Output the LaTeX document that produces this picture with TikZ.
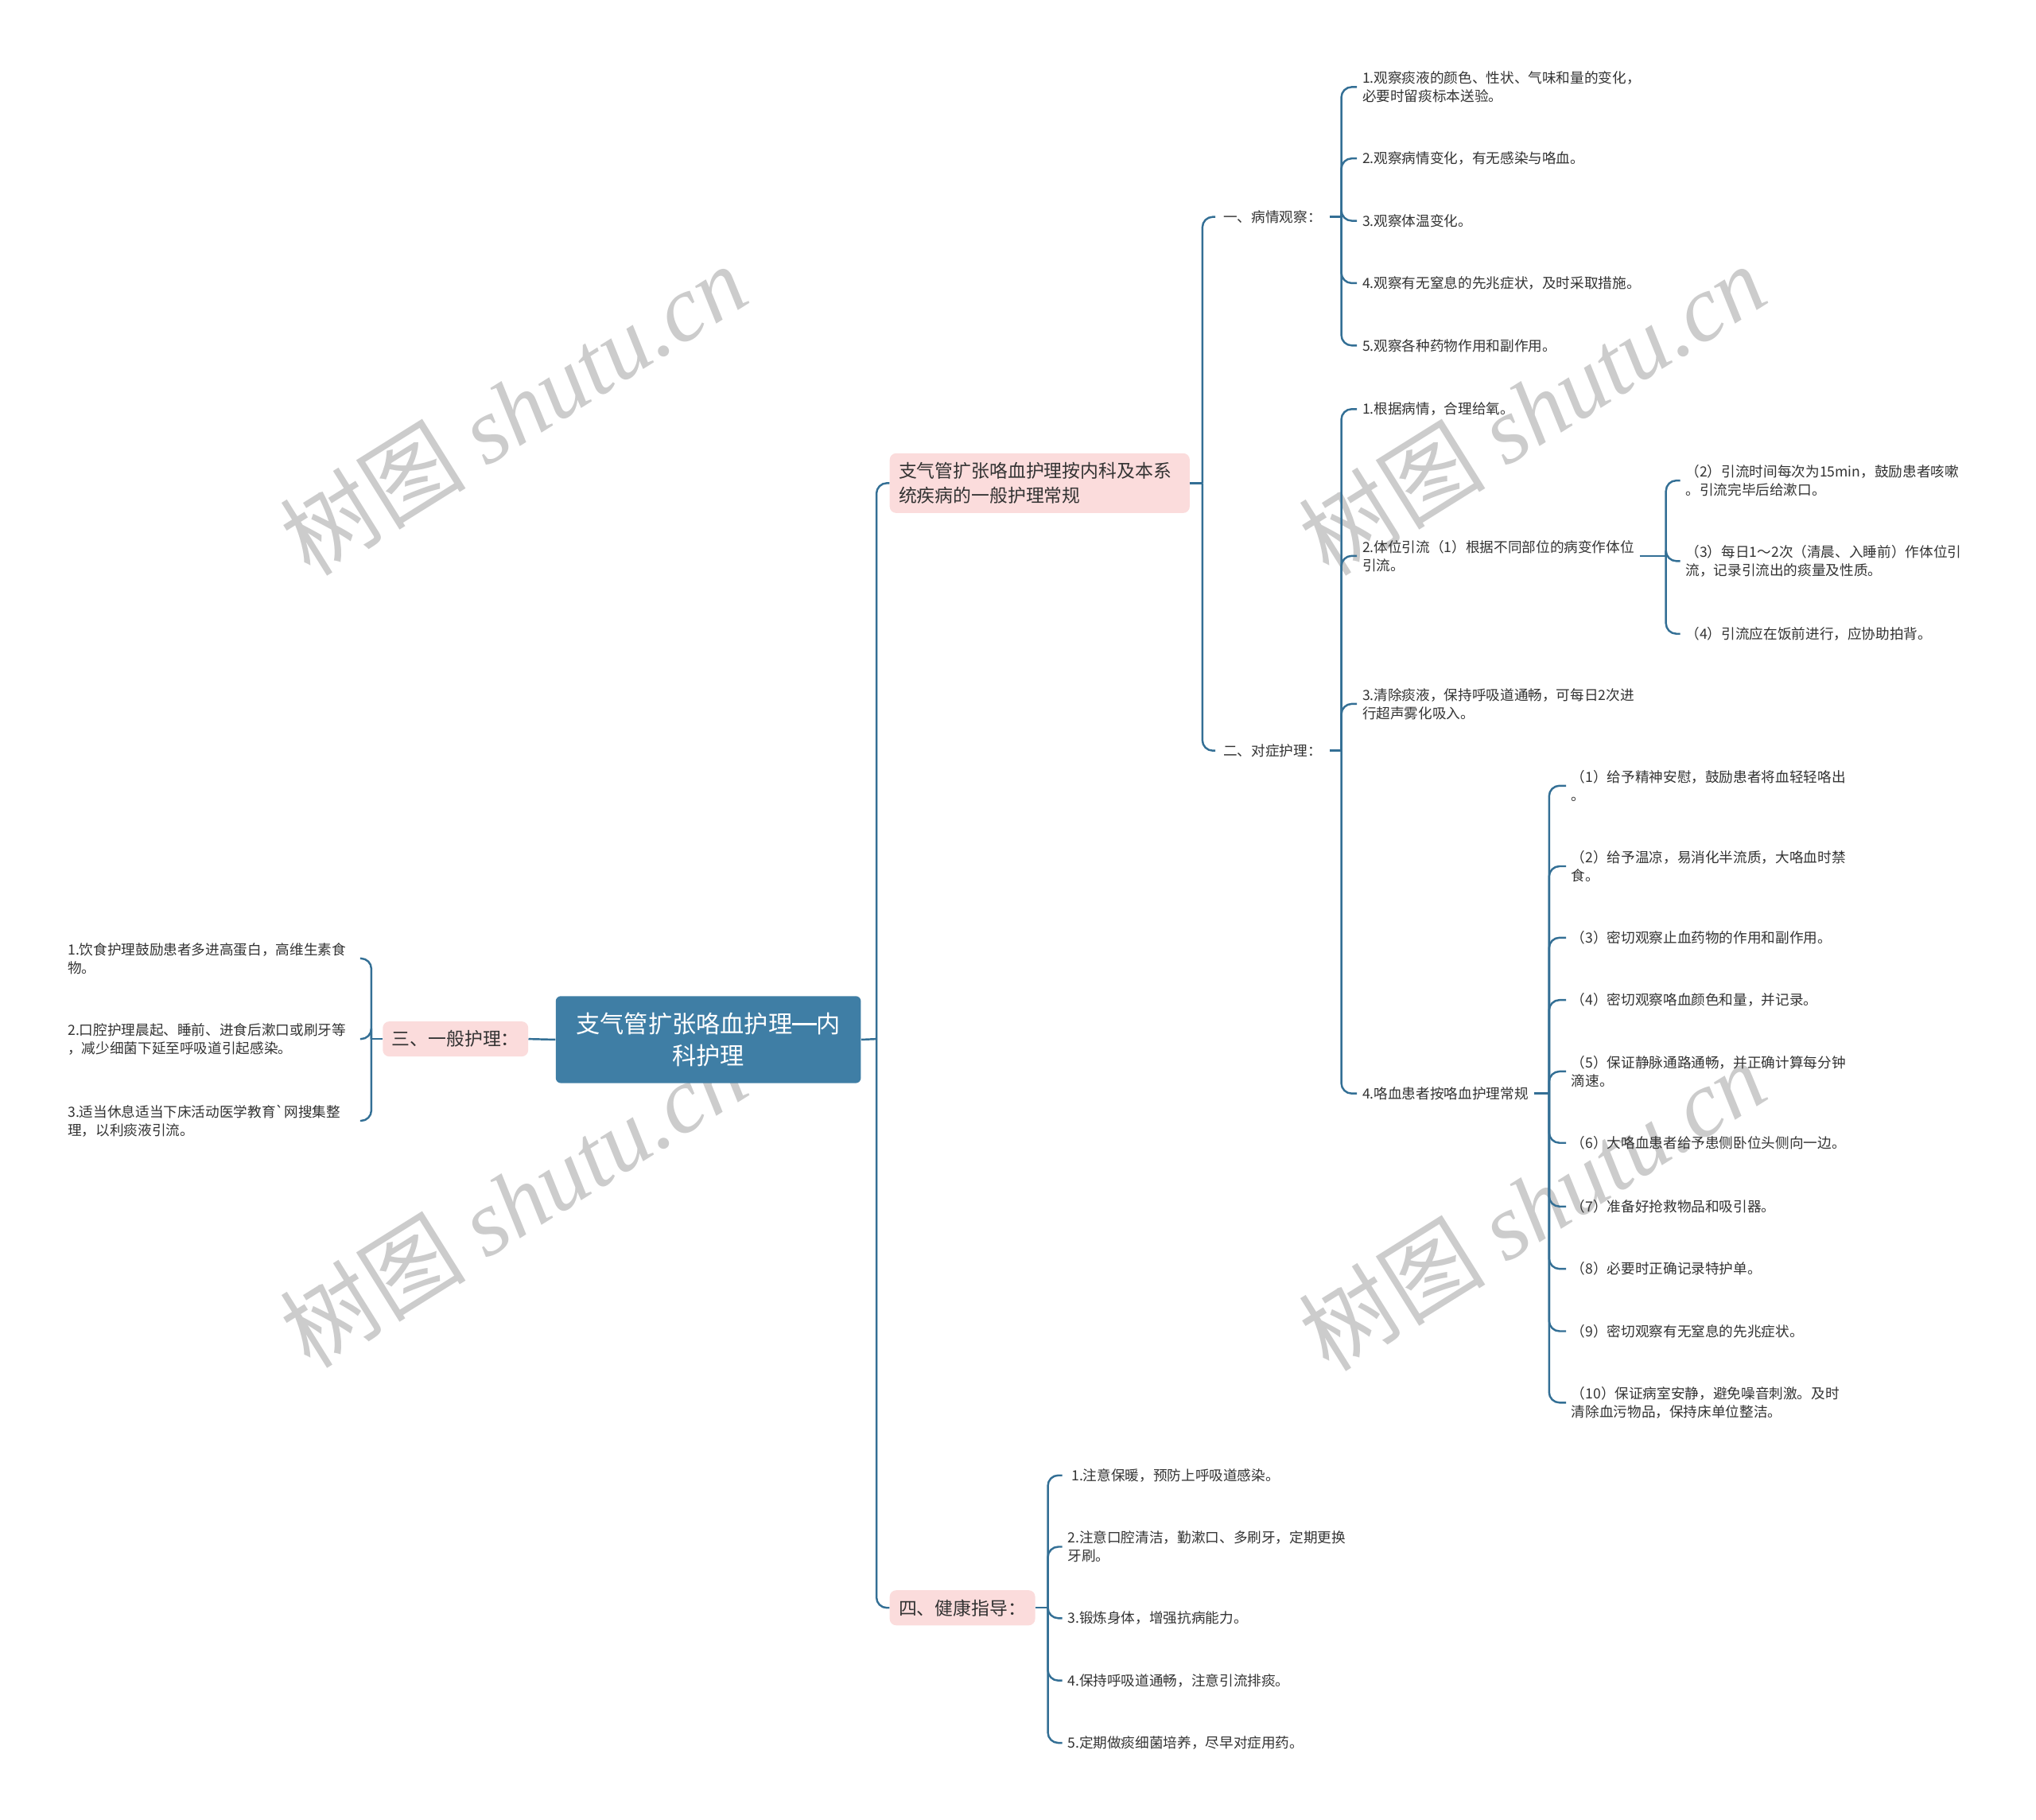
\documentclass[tikz,border=0pt]{standalone}
\usepackage{fontspec}
\setmainfont{Noto Sans CJK SC}
\newfontfamily\wmlatin{Liberation Serif}
\usepackage{tikz}

\definecolor{rootblue}{HTML}{3F7EA5}
\definecolor{linkblue}{HTML}{336F95}
\definecolor{topicpink}{HTML}{FBDCDC}
\definecolor{inkgray}{HTML}{333333}

\newcommand{\longdash}{\makebox[1em]{\rule[0.34em]{1em}{0.07em}}}

\begin{document}
\begin{tikzpicture}[x=1pt, y=-1pt,
    root/.style={fill=rootblue, rounded corners=4pt, text=white, align=center,
        font=\fontsize{18.5}{24}\selectfont, minimum width=235pt, minimum height=67pt, inner sep=0pt},
    topic/.style={fill=topicpink, rounded corners=5pt, text=inkgray, align=left,
        font=\fontsize{14}{19}\selectfont, inner xsep=7pt, inner ysep=7pt},
    leaf/.style={text=inkgray, align=left, anchor=west,
        font=\fontsize{10.8}{14}\selectfont, inner xsep=4pt, inner ysep=2pt},
    label/.style={leaf, inner xsep=6pt},
    conn/.style={draw=linkblue, line width=1.5pt, rounded corners=8pt},
    wmark/.style={text=black!20, rotate=32, font=\fontsize{72}{80}\selectfont}]
    \fill[white] (0,0) rectangle (1568,1401);
    \useasboundingbox (0,0) rectangle (1568,1401);

    \node[wmark] (wm1) at (395,315) {树图 {\wmlatin\itshape shutu.cn}};
    \node[wmark] (wm2) at (1180,315) {树图 {\wmlatin\itshape shutu.cn}};
    \node[wmark] (wm3) at (395,925) {树图 {\wmlatin\itshape shutu.cn}};
    \node[wmark] (wm4) at (1180,928) {树图 {\wmlatin\itshape shutu.cn}};

    \node[root] (root) at (545.5,800.5) {支气管扩张咯血护理\longdash 内\\科护理};

    % left side
    \node[topic, anchor=east] (gen) at (407,800) {三、一般护理：};
    \node[leaf, text width=221pt] (gen1) at (48,738) {1.饮食护理鼓励患者多进高蛋白，高维生素食\\物。};
    \node[leaf, text width=221pt] (gen2) at (48,800) {2.口腔护理晨起、睡前、进食后漱口或刷牙等\\，减少细菌下延至呼吸道引起感染。};
    \node[leaf, text width=221pt] (gen3) at (48,863) {3.适当休息适当下床活动医学教育\textasciigrave 网搜集整\\理，以利痰液引流。};

    % right side
    \node[topic, anchor=west, text width=217pt] (ward) at (685,372) {支气管扩张咯血护理按内科及本系\\统疾病的一般护理常规};
    \node[topic, anchor=west] (health) at (685,1238) {四、健康指导：};

    \node[label] (obs) at (936,167) {一、病情观察：};
    \node[label] (sym) at (936,578) {二、对症护理：};

    \node[leaf] (obs1) at (1045,67) {1.观察痰液的颜色、性状、气味和量的变化，\\必要时留痰标本送验。};
    \node[leaf] (obs2) at (1045,122) {2.观察病情变化，有无感染与咯血。};
    \node[leaf] (obs3) at (1045,170) {3.观察体温变化。};
    \node[leaf] (obs4) at (1045,218) {4.观察有无窒息的先兆症状，及时采取措施。};
    \node[leaf] (obs5) at (1045,266) {5.观察各种药物作用和副作用。};

    \node[leaf] (sym1) at (1045,315) {1.根据病情，合理给氧。};
    \node[leaf] (sym2) at (1045,428) {2.体位引流（1）根据不同部位的病变作体位\\引流。};
    \node[leaf] (sym3) at (1045,542) {3.清除痰液，保持呼吸道通畅，可每日2次进\\行超声雾化吸入。};
    \node[leaf] (sym4) at (1045,842) {4.咯血患者按咯血护理常规};

    \node[leaf] (drain2) at (1294,370) {（2）引流时间每次为15min，鼓励患者咳嗽\\。引流完毕后给漱口。};
    \node[leaf] (drain3) at (1294,432) {（3）每日1～2次（清晨、入睡前）作体位引\\流，记录引流出的痰量及性质。};
    \node[leaf] (drain4) at (1294,488) {（4）引流应在饭前进行，应协助拍背。};

    \node[leaf] (blood1) at (1206,605) {（1）给予精神安慰，鼓励患者将血轻轻咯出\\。};
    \node[leaf] (blood2) at (1206,667) {（2）给予温凉，易消化半流质，大咯血时禁\\食。};
    \node[leaf] (blood3) at (1206,722) {（3）密切观察止血药物的作用和副作用。};
    \node[leaf] (blood4) at (1206,770) {（4）密切观察咯血颜色和量，并记录。};
    \node[leaf] (blood5) at (1206,825) {（5）保证静脉通路通畅，并正确计算每分钟\\滴速。};
    \node[leaf] (blood6) at (1206,880) {（6）大咯血患者给予患侧卧位头侧向一边。};
    \node[leaf] (blood7) at (1206,929) {（7）准备好抢救物品和吸引器。};
    \node[leaf] (blood8) at (1206,977) {（8）必要时正确记录特护单。};
    \node[leaf] (blood9) at (1206,1025) {（9）密切观察有无窒息的先兆症状。};
    \node[leaf] (blood10) at (1206,1080) {（10）保证病室安静，避免噪音刺激。及时\\清除血污物品，保持床单位整洁。};

    \node[leaf] (hlth1) at (818,1136) {\hspace{3pt}1.注意保暖，预防上呼吸道感染。};
    \node[leaf] (hlth2) at (818,1191) {2.注意口腔清洁，勤漱口、多刷牙，定期更换\\牙刷。};
    \node[leaf] (hlth3) at (818,1246) {3.锻炼身体，增强抗病能力。};
    \node[leaf] (hlth4) at (818,1294) {4.保持呼吸道通畅，注意引流排痰。};
    \node[leaf] (hlth5) at (818,1342) {5.定期做痰细菌培养，尽早对症用药。};

    % junctions
    \coordinate (jgen) at (286,800);
    \coordinate (jroot) at (675,800);
    \coordinate (jward) at (926,372);
    \coordinate (jobs) at (1033,167);
    \coordinate (jsym) at (1033,578);
    \coordinate (jdrain) at (1283,428);
    \coordinate (jblood) at (1193,842);
    \coordinate (jhealth) at (807,1238);

    \draw[conn] (root.west) -- (gen.east);
    \draw[conn] (gen.west) -- (jgen);
    \foreach \n in {gen1,gen2,gen3}
        \draw[conn] (jgen) |- (\n.east);

    \draw[conn] (root.east) -- (jroot);
    \draw[conn] (jroot) |- (ward.west);
    \draw[conn] (jroot) |- (health.west);

    \draw[conn] (ward.east) -- (jward);
    \draw[conn] (jward) |- (obs.west);
    \draw[conn] (jward) |- (sym.west);

    \draw[conn] (obs.east) -- (jobs);
    \foreach \n in {obs1,obs2,obs3,obs4,obs5}
        \draw[conn] (jobs) |- (\n.west);

    \draw[conn] (sym.east) -- (jsym);
    \foreach \n in {sym1,sym2,sym3,sym4}
        \draw[conn] (jsym) |- (\n.west);

    \draw[conn] (sym2.east) -- (jdrain);
    \foreach \n in {drain2,drain3,drain4}
        \draw[conn] (jdrain) |- (\n.west);

    \draw[conn] (sym4.east) -- (jblood);
    \foreach \n in {blood1,blood2,blood3,blood4,blood5,blood6,blood7,blood8,blood9,blood10}
        \draw[conn] (jblood) |- (\n.west);

    \draw[conn] (health.east) -- (jhealth);
    \foreach \n in {hlth1,hlth2,hlth3,hlth4,hlth5}
        \draw[conn] (jhealth) |- (\n.west);
\end{tikzpicture}
\end{document}
